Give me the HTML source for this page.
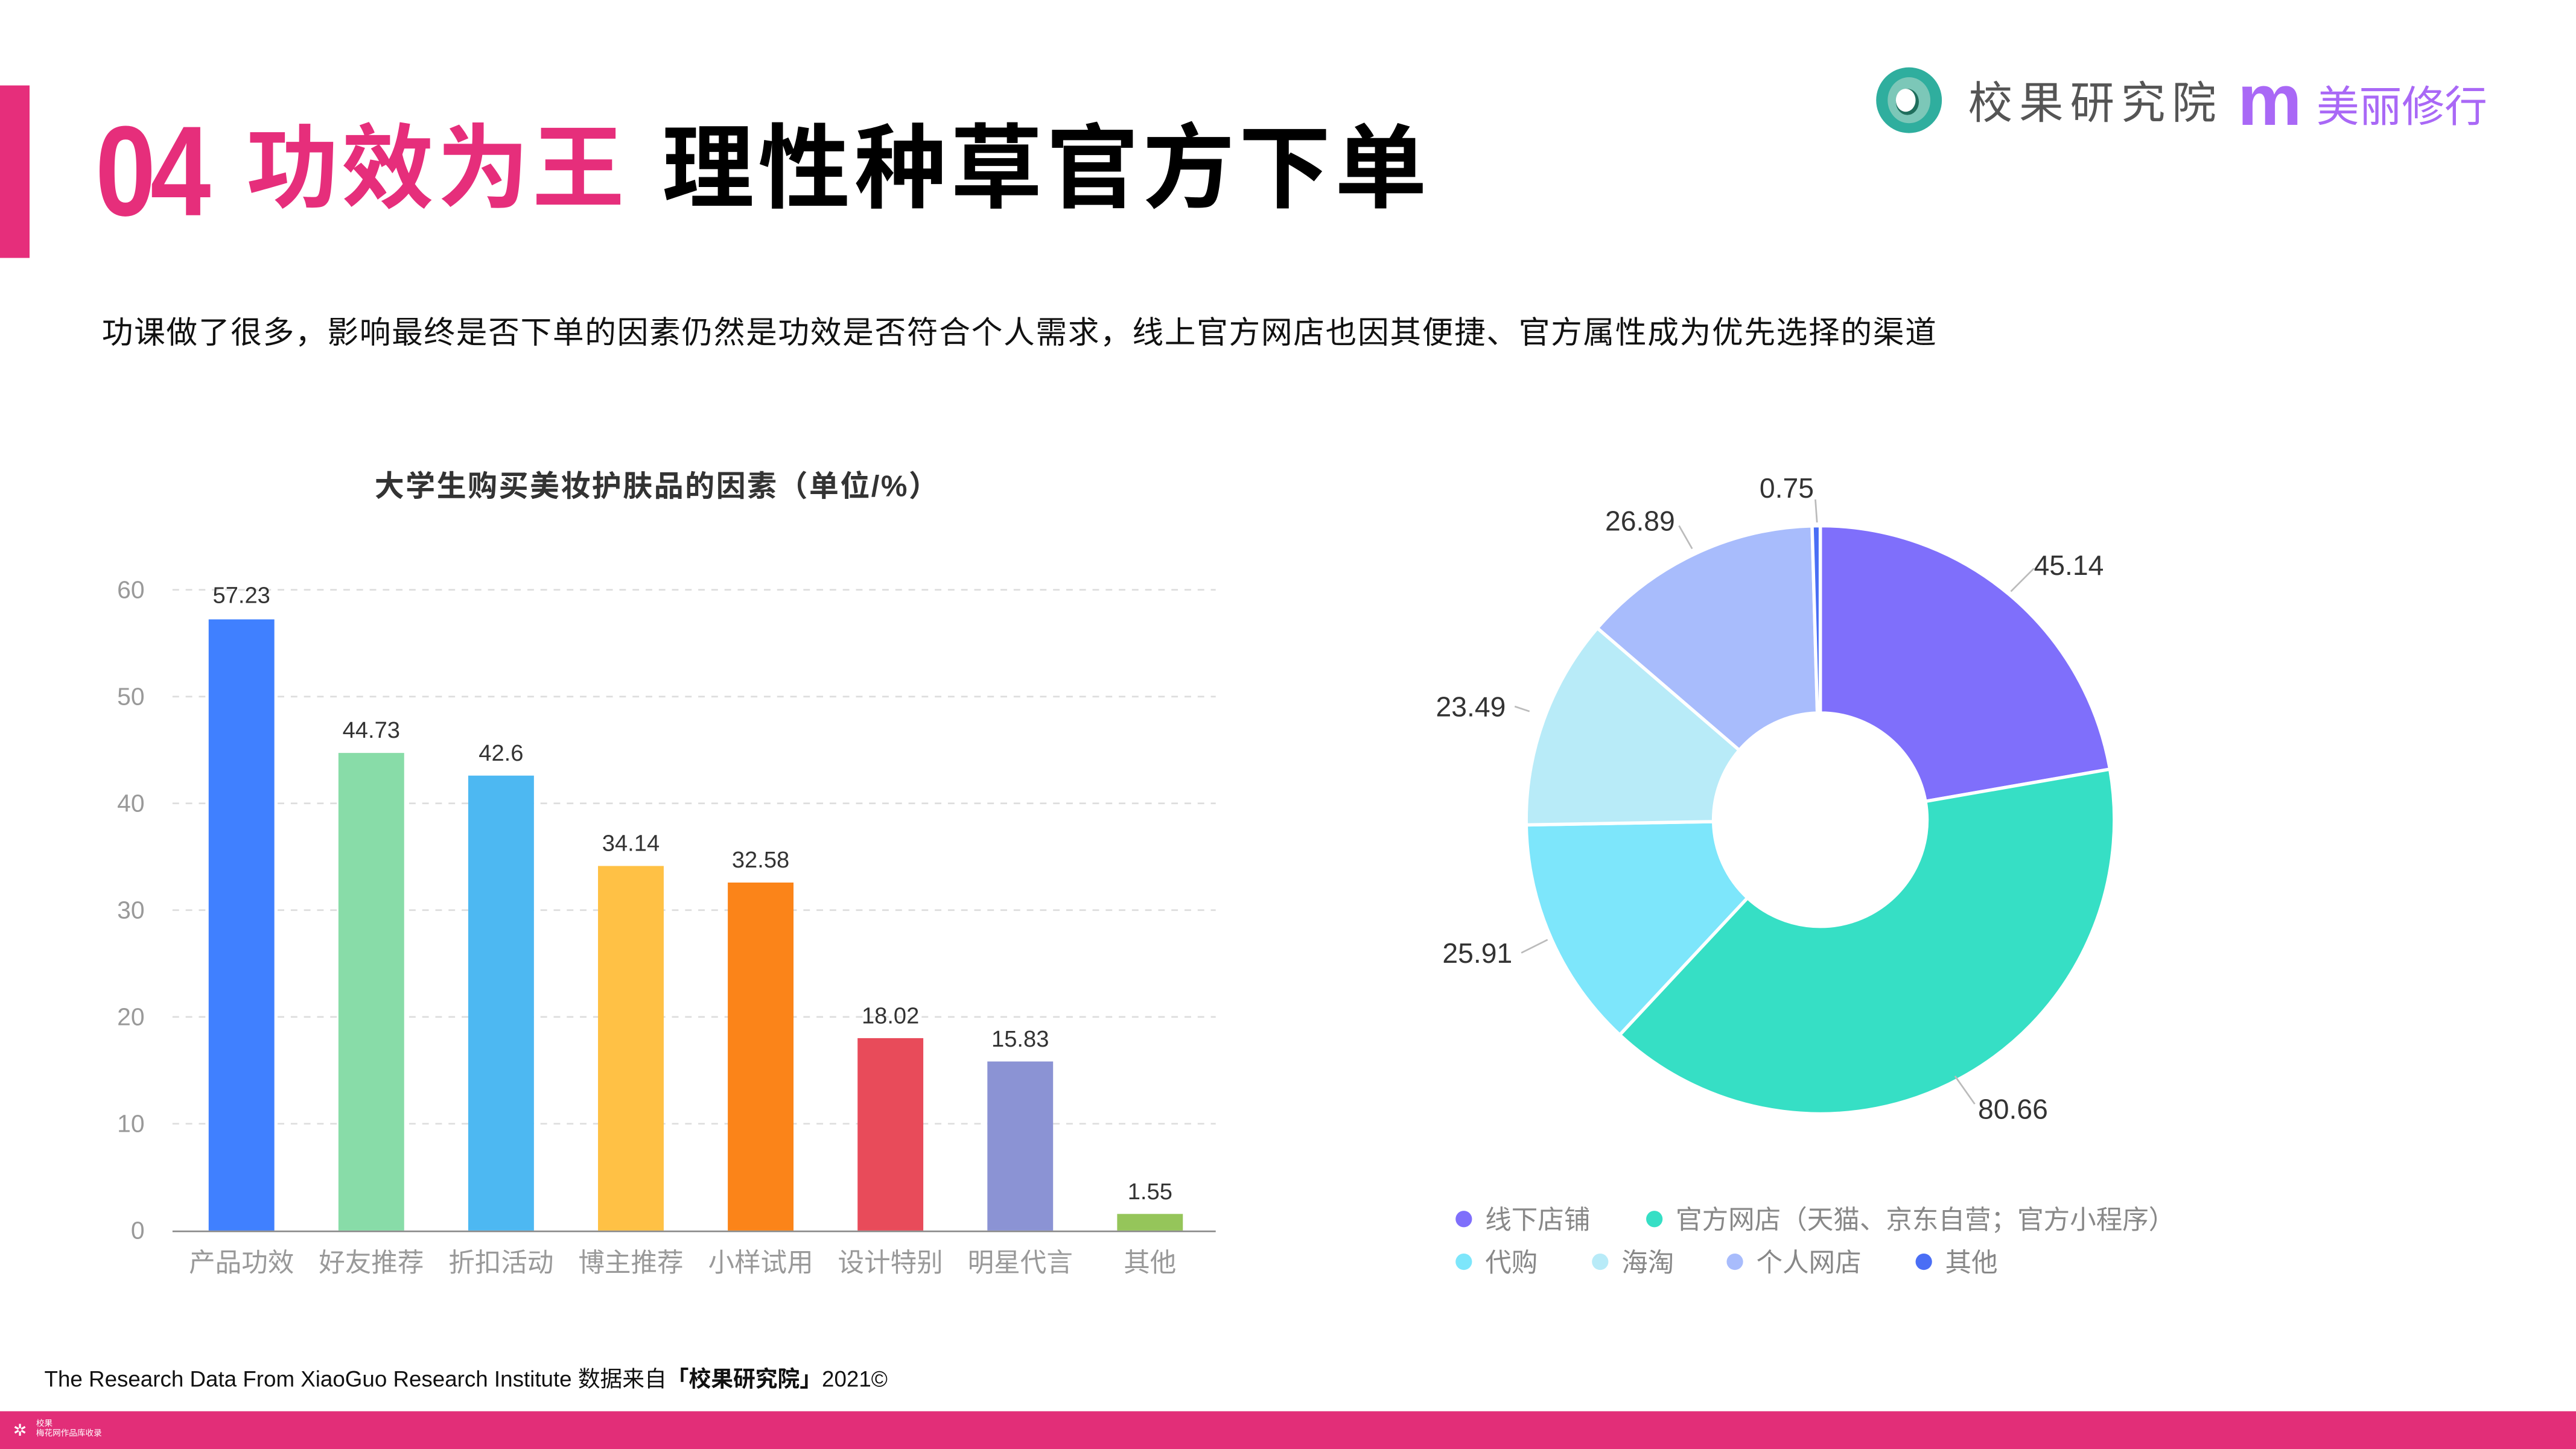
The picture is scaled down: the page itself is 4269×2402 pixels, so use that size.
<!DOCTYPE html>
<html><head><meta charset="utf-8"><style>
html,body{margin:0;padding:0;background:#fff;}
body{width:4269px;height:2402px;overflow:hidden;position:relative;}
#s{position:absolute;left:0;top:0;width:1568px;height:882px;transform:scale(2.7226,2.7234);transform-origin:0 0;font-family:"Liberation Sans","Noto Sans CJK SC",sans-serif;}
.a{position:absolute;white-space:nowrap;}
</style></head><body><div id="s">
<div class="a" style="left:0;top:52px;width:18px;height:105px;background:#e62e7b"></div>
<div class="a" style="left:58px;top:62px;font-size:78px;font-weight:bold;color:#e62e7b;letter-spacing:-4px;transform:scaleX(0.85);transform-origin:0 0;line-height:84px">04</div>
<div class="a" style="left:150px;top:70px;font-size:56px;font-weight:bold;color:#e62e7b;line-height:66px;letter-spacing:2px">功效为王</div>
<div class="a" style="left:403px;top:70px;font-size:56px;font-weight:bold;color:#000;line-height:66px;letter-spacing:2.5px">理性种草官方下单</div>
<div class="a" style="left:62px;top:192px;font-size:19px;color:#111;line-height:24px;letter-spacing:0.6px">功课做了很多，影响最终是否下单的因素仍然是功效是否符合个人需求，线上官方网店也因其便捷、官方属性成为优先选择的渠道</div>

<svg class="a" style="left:0;top:0" width="1568" height="882">
<ellipse cx="1162" cy="61" rx="20" ry="20" fill="#2fae9e"/>
<ellipse cx="1162" cy="61" rx="13" ry="14" fill="#7cc7b8"/>
<ellipse cx="1161" cy="62" rx="7" ry="8" fill="#1f6e5c"/>
<ellipse cx="1160" cy="61" rx="6" ry="7" fill="#fff"/>
<text x="1198" y="72" font-size="27" fill="#555" letter-spacing="4" font-family="Liberation Sans,Noto Sans CJK SC,sans-serif">校果研究院</text>
<text x="1362" y="76" font-size="44" font-weight="bold" fill="#a968f6" font-family="Liberation Sans,sans-serif">m</text>
<text x="1410" y="74" font-size="26" fill="#a968f6" font-family="Liberation Sans,Noto Sans CJK SC,sans-serif">美丽修行</text>

<text x="400" y="302" font-size="18" font-weight="bold" fill="#333" text-anchor="middle" letter-spacing="0.9" font-family="Liberation Sans,Noto Sans CJK SC,sans-serif">大学生购买美妆护肤品的因素（单位/%）</text>
<g stroke="#ddd" stroke-dasharray="4,4" stroke-width="1">
<line x1="105" y1="359" x2="740" y2="359"/><line x1="105" y1="424" x2="740" y2="424"/><line x1="105" y1="489" x2="740" y2="489"/><line x1="105" y1="554" x2="740" y2="554"/><line x1="105" y1="619" x2="740" y2="619"/><line x1="105" y1="684" x2="740" y2="684"/>
</g>
<line x1="105" y1="749.5" x2="740" y2="749.5" stroke="#888" stroke-width="1"/>
<g font-size="15" fill="#999" text-anchor="end" font-family="Liberation Sans,sans-serif">
<text x="88" y="364">60</text><text x="88" y="429">50</text><text x="88" y="494">40</text><text x="88" y="559">30</text><text x="88" y="624">20</text><text x="88" y="689">10</text><text x="88" y="754">0</text>
</g>
<g>
<rect x="127" y="377" width="40" height="372" fill="#4080ff"/>
<rect x="206" y="458.3" width="40" height="290.7" fill="#88dca8"/>
<rect x="285" y="472.1" width="40" height="276.9" fill="#4db8f2"/>
<rect x="364" y="527.1" width="40" height="221.9" fill="#ffc145"/>
<rect x="443" y="537.2" width="40" height="211.8" fill="#fb8419"/>
<rect x="522" y="631.9" width="40" height="117.1" fill="#e84b5a"/>
<rect x="601" y="646.1" width="40" height="102.9" fill="#8b93d4"/>
<rect x="680" y="738.9" width="40" height="10.1" fill="#95c55a"/>
</g>
<g font-size="14" fill="#333" text-anchor="middle" font-family="Liberation Sans,sans-serif">
<text x="147" y="367">57.23</text><text x="226" y="449">44.73</text><text x="305" y="463">42.6</text><text x="384" y="518">34.14</text><text x="463" y="528">32.58</text><text x="542" y="623">18.02</text><text x="621" y="637">15.83</text><text x="700" y="730">1.55</text>
</g>
<g font-size="16" fill="#999" text-anchor="middle" font-family="Liberation Sans,Noto Sans CJK SC,sans-serif">
<text x="147" y="774">产品功效</text><text x="226" y="774">好友推荐</text><text x="305" y="774">折扣活动</text><text x="384" y="774">博主推荐</text><text x="463" y="774">小样试用</text><text x="542" y="774">设计特别</text><text x="621" y="774">明星代言</text><text x="700" y="774">其他</text>
</g>

<g stroke="#fff" stroke-width="2">
<path d="M1108,320 A179,179 0 0 1 1284.3,468.2 L1172,487.8 A65,65 0 0 0 1108,434 Z" fill="#7f6ffb"/>
<path d="M1284.3,468.2 A179,179 0 0 1 985.9,629.9 L1063.7,546.5 A65,65 0 0 0 1172,487.8 Z" fill="#36dfc5"/>
<path d="M985.9,629.9 A179,179 0 0 1 929,502.1 L1043,500.1 A65,65 0 0 0 1063.7,546.5 Z" fill="#7de6fb"/>
<path d="M929,502.1 A179,179 0 0 1 972.3,382.3 L1058.7,456.6 A65,65 0 0 0 1043,500.1 Z" fill="#b8ebf8"/>
<path d="M972.3,382.3 A179,179 0 0 1 1103,320.1 L1106.2,434 A65,65 0 0 0 1058.7,456.6 Z" fill="#a8bcfc"/>
<path d="M1103,320.1 A179,179 0 0 1 1108,320 L1108,434 A65,65 0 0 0 1106.2,434 Z" fill="#4a6ef5"/>
</g>
<g stroke="#bbb" stroke-width="1" fill="none">
<path d="M1224,360 L1238,346"/><path d="M1190,655 L1202,672"/><path d="M942,572 L926,580"/><path d="M931,433 L922,430"/><path d="M1022,320 L1030,334"/><path d="M1105,304 L1106,318"/>
</g>
<g font-size="17" fill="#333" font-family="Liberation Sans,sans-serif">
<text x="1238" y="350">45.14</text><text x="1204" y="681">80.66</text><text x="878" y="586">25.91</text><text x="874" y="436">23.49</text><text x="977" y="323">26.89</text><text x="1071" y="303">0.75</text>
</g>
<g font-size="16" fill="#888" font-family="Liberation Sans,Noto Sans CJK SC,sans-serif">
<circle cx="891" cy="742" r="5" fill="#7f6ffb"/><text x="904" y="748">线下店铺</text>
<circle cx="1007" cy="742" r="5" fill="#36dfc5"/><text x="1020" y="748">官方网店（天猫、京东自营；官方小程序）</text>
<circle cx="891" cy="768" r="5" fill="#7de6fb"/><text x="904" y="774">代购</text>
<circle cx="974" cy="768" r="5" fill="#b8ebf8"/><text x="987" y="774">海淘</text>
<circle cx="1056" cy="768" r="5" fill="#a8bcfc"/><text x="1069" y="774">个人网店</text>
<circle cx="1171" cy="768" r="5" fill="#4a6ef5"/><text x="1184" y="774">其他</text>
</g>
<text x="27" y="844" font-size="13.5" fill="#111" font-family="Liberation Sans,Noto Sans CJK SC,sans-serif">The Research Data From XiaoGuo Research Institute 数据来自<tspan font-weight="bold">「校果研究院」</tspan>2021©</text>
<rect x="0" y="859" width="1568" height="23" fill="#e22e78"/>
<text x="8" y="874" font-size="10" fill="#fff">✲</text>
<text x="22" y="868" font-size="5" fill="#fff" font-family="Noto Sans CJK SC,sans-serif">校果</text>
<text x="22" y="874" font-size="5" fill="#fff" font-family="Noto Sans CJK SC,sans-serif">梅花网作品库收录</text>
</svg>
</div></body></html>
